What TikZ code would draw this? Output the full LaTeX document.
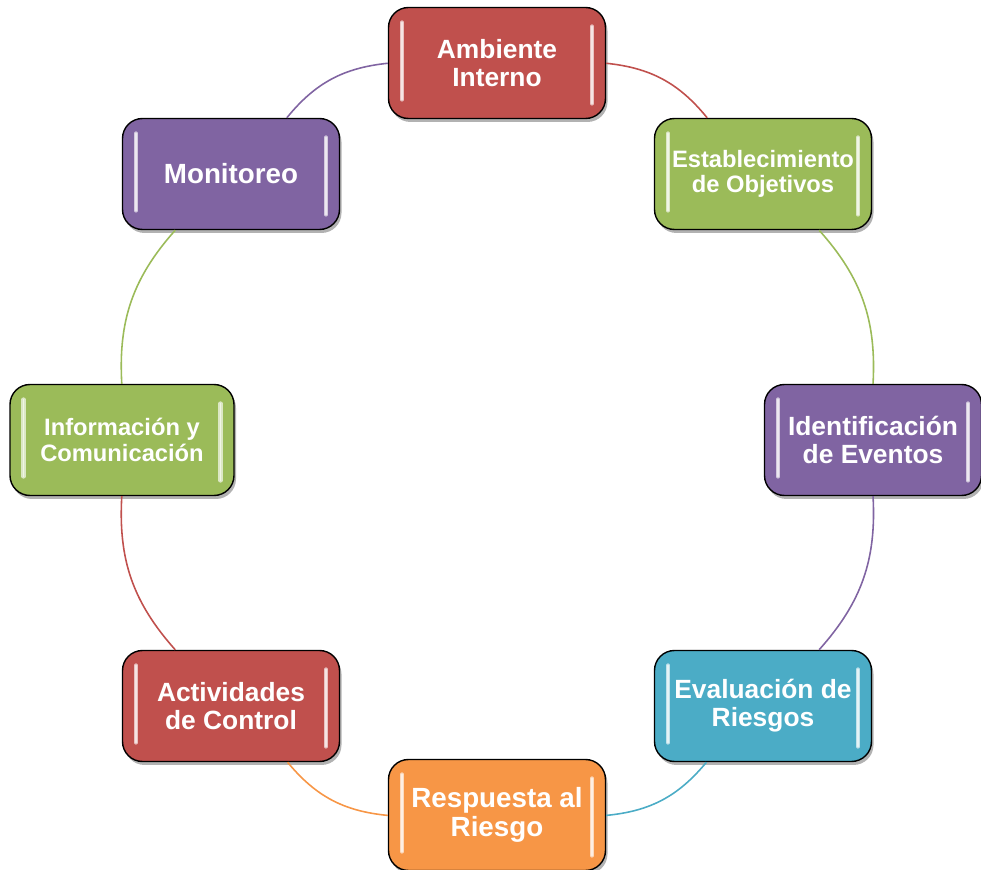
\documentclass[tikz,border=0pt]{standalone}
\usepackage{fontspec}
\setmainfont{Liberation Sans}
\usetikzlibrary{shadows}

\definecolor{cred}{HTML}{C0504D}
\definecolor{cgreen}{HTML}{9BBB59}
\definecolor{cpurple}{HTML}{8064A2}
\definecolor{cblue}{HTML}{4BACC6}
\definecolor{corange}{HTML}{F79646}

\begin{document}
\begin{tikzpicture}[
	stage/.style={rectangle, rounded corners=0.4cm, draw=black, line width=0.8pt, fill=#1,
		minimum width=4.34cm, minimum height=2.22cm, inner sep=0pt, align=center, text=white,
		font=\bfseries\fontsize{15}{16}\selectfont,
		drop shadow={shadow xshift=0.04cm, shadow yshift=-0.07cm, opacity=0.3, fill=black},
		path picture={
			\draw[#1!35!white, line width=2.4pt, line cap=round]
				([xshift=0.27cm, yshift=-0.3cm]path picture bounding box.north west) --
				([xshift=0.27cm, yshift=0.38cm]path picture bounding box.south west);
			\draw[#1!35!white, line width=2.4pt, line cap=round]
				([xshift=-0.27cm, yshift=-0.38cm]path picture bounding box.north east) --
				([xshift=-0.27cm, yshift=0.3cm]path picture bounding box.south east);
			\draw[white!85!#1, line width=0.8pt, line cap=round]
				([xshift=0.27cm, yshift=-0.3cm]path picture bounding box.north west) --
				([xshift=0.27cm, yshift=0.38cm]path picture bounding box.south west);
			\draw[white!85!#1, line width=0.8pt, line cap=round]
				([xshift=-0.27cm, yshift=-0.38cm]path picture bounding box.north east) --
				([xshift=-0.27cm, yshift=0.3cm]path picture bounding box.south east);
		}},
	small/.style={font=\bfseries\fontsize{13.5}{14.5}\selectfont},
	large/.style={font=\bfseries\fontsize{15.8}{16.8}\selectfont},
	link/.style={draw=#1, line width=0.9pt}
]
	\useasboundingbox (0, 0) rectangle (19.62, 17.4);

	\node[stage=cred] (amb) at (9.94, 16.14) {Ambiente\\Interno};
	\node[stage=cgreen, small] (est) at (15.26, 13.92) {Establecimiento\\de Objetivos};
	\node[stage=cpurple] (ide) at (17.46, 8.6) {Identificación\\de Eventos};
	\node[stage=cblue] (eva) at (15.26, 3.28) {Evaluación de\\Riesgos};
	\node[stage=corange, large] (res) at (9.94, 1.1) {Respuesta al\\Riesgo};
	\node[stage=cred] (act) at (4.62, 3.28) {Actividades\\de Control};
	\node[stage=cgreen, small, minimum width=4.48cm] (inf) at (2.44, 8.6) {Información y\\Comunicación};
	\node[stage=cpurple, large] (mon) at (4.62, 13.92) {Monitoreo};

	% Draw the arcs between stages
	\draw[link=cred] (amb) to[bend left=22.5] (est);
	\draw[link=cgreen] (est) to[bend left=22.5] (ide);
	\draw[link=cpurple] (ide) to[bend left=22.5] (eva);
	\draw[link=cblue] (eva) to[bend left=22.5] (res);
	\draw[link=corange] (res) to[bend left=22.5] (act);
	\draw[link=cred] (act) to[bend left=22.5] (inf);
	\draw[link=cgreen] (inf) to[bend left=22.5] (mon);
	\draw[link=cpurple] (mon) to[bend left=22.5] (amb);
\end{tikzpicture}
\end{document}
